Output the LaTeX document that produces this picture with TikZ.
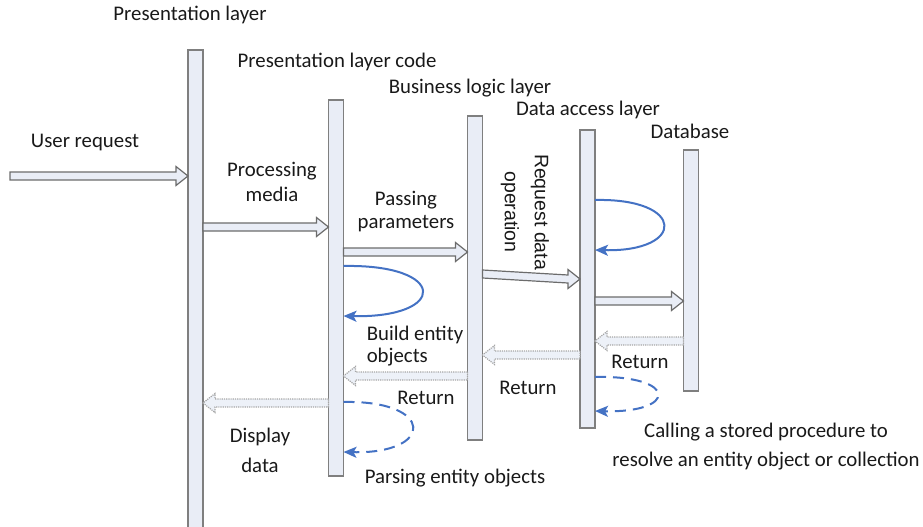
\documentclass[tikz,border=0pt]{standalone}
\usepackage{fontspec}
\setmainfont{Carlito}
\newfontfamily\arialfont{Liberation Sans}
\usetikzlibrary{arrows.meta,calc}
\definecolor{barfill}{HTML}{E9EDF6}
\definecolor{barline}{HTML}{7F7F7F}
\definecolor{loopblue}{HTML}{4472C4}
\begin{document}
\begin{tikzpicture}[x=1pt,y=-1pt,font=\fontsize{20.8}{25}\selectfont,
  bar/.style={draw=barline, fill=barfill, line width=1.5pt, minimum width=15pt,
    anchor=north, inner sep=0pt, outer sep=0pt},
  lbl/.style={inner sep=0pt, align=center, text=black!90},
  block/.style={draw=barline!85!black, fill=barfill, line width=1.2pt,
    to path={let \p1=(\tikztostart), \p2=(\tikztotarget),
      \n1={ifthenelse(\x2>\x1,1,-1)} in
      (\x1,\y1+4) -- (\x2-\n1*12,\y2+4) -- (\x2-\n1*12,\y2+9.5) -- (\x2,\y2)
      -- (\x2-\n1*12,\y2-9.5) -- (\x2-\n1*12,\y2-4) -- (\x1,\y1-4) -- cycle}},
  retblock/.style={block, draw=gray!70, densely dotted, fill=barfill!80},
  selfloop/.style={draw=loopblue, line width=2pt, -{Stealth[length=13pt,width=11pt,inset=3pt]}},
  dashloop/.style={selfloop, dash pattern=on 11pt off 7pt}
]
\useasboundingbox (0,0) rectangle (923,527);
% lifelines
\node[bar, minimum height=490pt] (pl)  at (195.5,50) {};
\node[bar, minimum height=376pt] (plc) at (336,100) {};
\node[bar, minimum height=324pt] (bl)  at (475,116) {};
\node[bar, minimum height=298pt] (da)  at (587.5,130) {};
\node[bar, minimum height=241pt] (db)  at (691,150) {};
% headings
\node[lbl] (t1) at (190,15) {Presentation layer};
\node[lbl] (t2) at (337,62) {Presentation layer code};
\node[lbl] (t3) at (470,88) {Business logic layer};
\node[lbl] (t4) at (588,110) {Data access layer};
\node[lbl] (t5) at (690,131) {Database};
% request arrows
\coordinate (u) at (10,176);
\draw[block] (u) to (pl.west |- u);
\node[lbl] (l1) at (85,143) {User request};
\draw[block] (pl.east |- 0,227) to (plc.west |- 0,227);
\node[lbl] (l2) at (272,182) {Processing\\media};
\draw[block] (plc.east |- 0,252) to (bl.west |- 0,252);
\node[lbl] (l3) at (406,212) {Passing\\[-2pt]parameters};
\draw[block] (bl.east |- 0,274) to (da.west |- 0,279);
\node[lbl, rotate=-90, font=\arialfont\fontsize{19.5}{30}\selectfont] (l4) at (525,212) {Request data\\operation};
\draw[block] (da.east |- 0,301) to (db.west |- 0,301);
% self loops
\draw[selfloop] (plc.east |- 0,266) .. controls (448,264) and (448,318) .. (plc.east |- 0,316);
\node[lbl, align=left] (l5) at (415,346) {Build entity\\[-3pt]objects};
\draw[selfloop] (da.east |- 0,200) .. controls (686,198) and (686,252) .. (da.east |- 0,250);
% returns
\draw[retblock] (db.west |- 0,341) to (da.east |- 0,341);
\node[lbl] (r1) at (640,362) {Return};
\draw[retblock] (da.west |- 0,355) to (bl.east |- 0,355);
\node[lbl] (r2) at (528,388) {Return};
\draw[retblock] (bl.west |- 0,376) to (plc.east |- 0,376);
\node[lbl] (r3) at (426,398) {Return};
\draw[retblock] (plc.west |- 0,403) to (pl.east |- 0,403);
\node[lbl] (l6) at (260,450) {Display\\[5pt]data};
% dashed loops
\draw[dashloop] (plc.east |- 0,402) .. controls (435,400) and (435,454) .. (plc.east |- 0,452);
\node[lbl] (l7) at (455,478) {Parsing entity objects};
\draw[dashloop] (da.east |- 0,377) .. controls (678,375) and (678,413) .. (da.east |- 0,411);
\node[lbl] (l8) at (766,447) {Calling a stored procedure to\\[4pt]resolve an entity object or collection};
\end{tikzpicture}
\end{document}
